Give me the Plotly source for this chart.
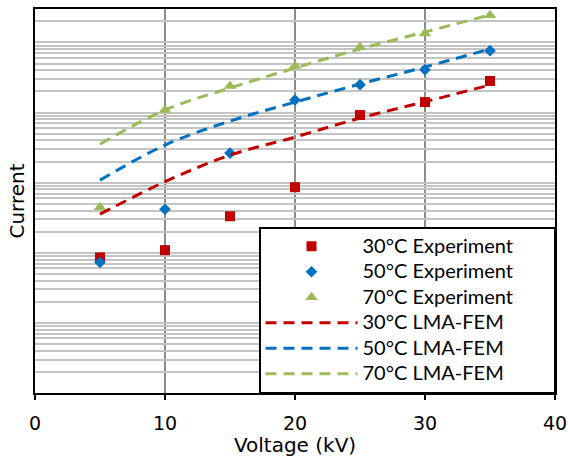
import plotly.graph_objects as go

voltage = [5, 10, 15, 20, 25, 30, 35]

exp_30 = [86, 109, 332, 862, 9210, 14100, 28200]
exp_50 = [73, 418, 2640, 15100, 24950, 40900, 76400]
exp_70 = [447, 10860, 23900, 46200, 85400, 133600, 244700]

fem_30 = [355, 1033, 2470, 4470, 8350, 14270, 24700]
fem_50 = [1086, 3434, 7560, 14100, 25500, 44700, 80700]
fem_70 = [3550, 10860, 22400, 43200, 80700, 141000, 247000]

x_ticks = [0, 10, 20, 30, 40]

red, blue, green = "#C00000", "#0070C0", "#9BBB59"


def lbl(t):
    return '<span style="font-size:20px">' + t + '</span>' + "\u00a0" * 8


fig = go.Figure()
for name, vals, col, sym, sz in [
    ("30°C Experiment", exp_30, red, "square", 10),
    ("50°C Experiment", exp_50, blue, "diamond", 9),
    ("70°C Experiment", exp_70, green, "triangle-up", 11),
]:
    fig.add_trace(go.Scatter(x=voltage, y=vals, mode="markers", name=lbl(name),
                             marker=dict(symbol=sym, size=sz, color=col)))
for name, vals, col in [
    ("30°C LMA-FEM", fem_30, red),
    ("50°C LMA-FEM", fem_50, blue),
    ("70°C LMA-FEM", fem_70, green),
]:
    fig.add_trace(go.Scatter(x=voltage, y=vals, mode="lines", name=lbl(name),
                             line=dict(color=col, width=3, dash="11px,7px", shape="spline")))

yvals = [m * 10 ** k for k in range(0, 6) for m in range(1, 10)]
yvals = [v for v in yvals if v <= 300000]

fig.update_layout(
    width=568, height=457,
    margin=dict(l=35, r=13, t=9, b=64),
    paper_bgcolor="white", plot_bgcolor="white",
    font=dict(family="DejaVu Sans, sans-serif", size=19, color="black"),
    showlegend=True,
    legend=dict(x=1, xanchor="right", y=0, yanchor="bottom",
                bgcolor="white", bordercolor="black", borderwidth=1.5,
                font=dict(family="Lato, Open Sans, sans-serif", size=17.3, color="black"),
                tracegroupgap=0, itemwidth=92),
)
fig.update_xaxes(
    range=[0, 40], tickvals=x_ticks, ticktext=[str(v) for v in x_ticks],
    showgrid=True, gridcolor="#8C8C8C", gridwidth=1.5,
    showline=True, linecolor="black", linewidth=2, mirror=True,
    ticks="outside", ticklen=5, tickcolor="black", tickwidth=1.5,
    ticklabelstandoff=7, automargin=False,
    zeroline=False,
    title=dict(text="Voltage (kV)", standoff=0, font=dict(size=20)),
)
fig.update_yaxes(
    type="log", range=[0, 5.477], tickvals=yvals, showticklabels=False,
    showgrid=True, gridcolor="#C4C4C4", gridwidth=1.5,
    showline=True, linecolor="black", linewidth=2, mirror=True,
    ticks="", zeroline=False, automargin=False,
    title=dict(text="Current", standoff=3, font=dict(size=20)),
)

fig.write_html("out.html")
